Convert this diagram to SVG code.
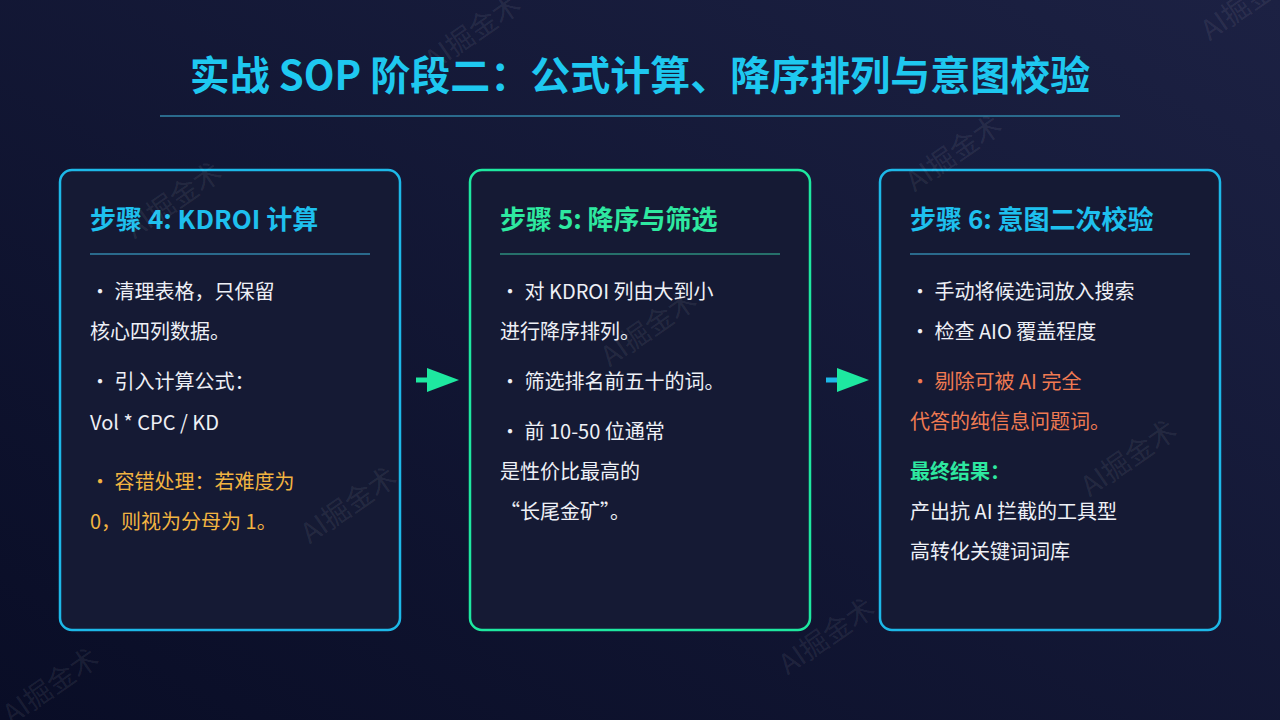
<svg xmlns="http://www.w3.org/2000/svg" width="1280" height="720" viewBox="0 0 1280 720">
  <defs>
    <linearGradient id="bg" x1="0" y1="1" x2="1" y2="0">
      <stop offset="0" stop-color="#090d26"/>
      <stop offset="1" stop-color="#1c2143"/>
    </linearGradient>
    <style>
      .title{font-family:"Noto Sans CJK SC","Noto Sans",sans-serif;font-weight:700;font-size:40px;fill:#1ec8f0}
      .card{fill:#151a34;stroke-width:2.5}
      .cyan{stroke:#1db8e8}
      .green{stroke:#1ee8a0}
      .h{font-family:"Noto Sans CJK SC","Noto Sans",sans-serif;font-weight:700;font-size:26px}
      .hc{fill:#1ec0ee}
      .hg{fill:#2ee8a0}
      .sep{stroke-width:2}
      .b{font-family:"Noto Sans CJK SC","Noto Sans",sans-serif;font-size:20px;fill:#eef0f6}
      .amber{fill:#f2b441}
      .coral{fill:#f07a52}
      .res{fill:#2ee8a0;font-weight:700}
      .wm{font-family:"Noto Sans CJK SC","Noto Sans",sans-serif;font-size:28px;fill:#ffffff;fill-opacity:0.08}
    </style>
  </defs>
  <rect width="1280" height="720" fill="url(#bg)"/>

  <g id="title">
    <text class="title" x="640" y="90" text-anchor="middle">实战 SOP 阶段二：公式计算、降序排列与意图校验</text>
    <line x1="160" y1="116" x2="1120" y2="116" stroke="#2a6a8c" stroke-width="2"/>
  </g>

  <g id="step4">
    <rect class="card cyan" x="60" y="170" width="340" height="460" rx="12"/>
    <text class="h hc" x="90" y="229">步骤 4: KDROI 计算</text>
    <line class="sep" x1="90" y1="254" x2="370" y2="254" stroke="#2a6a8c"/>
    <text class="b" x="90" y="299">・ 清理表格，只保留</text>
    <text class="b" x="90" y="339">核心四列数据。</text>
    <text class="b" x="90" y="389">・ 引入计算公式：</text>
    <text class="b" x="90" y="430">Vol * CPC / KD</text>
    <text class="b amber" x="90" y="489">・ 容错处理：若难度为</text>
    <text class="b amber" x="90" y="529">0，则视为分母为 1。</text>
  </g>

  <g id="step5">
    <rect class="card green" x="470" y="170" width="340" height="460" rx="12"/>
    <text class="h hg" x="500" y="229">步骤 5: 降序与筛选</text>
    <line class="sep" x1="500" y1="254" x2="780" y2="254" stroke="#26706a"/>
    <text class="b" x="500" y="299">・ 对 KDROI 列由大到小</text>
    <text class="b" x="500" y="339">进行降序排列。</text>
    <text class="b" x="500" y="389">・ 筛选排名前五十的词。</text>
    <text class="b" x="500" y="439">・ 前 10-50 位通常</text>
    <text class="b" x="500" y="479">是性价比最高的</text>
    <text class="b" x="500" y="519">“长尾金矿”。</text>
  </g>

  <g id="step6">
    <rect class="card cyan" x="880" y="170" width="340" height="460" rx="12"/>
    <text class="h hc" x="910" y="229">步骤 6: 意图二次校验</text>
    <line class="sep" x1="910" y1="254" x2="1190" y2="254" stroke="#2a6a8c"/>
    <text class="b" x="910" y="299">・ 手动将候选词放入搜索</text>
    <text class="b" x="910" y="339">・ 检查 AIO 覆盖程度</text>
    <text class="b coral" x="910" y="389">・ 剔除可被 AI 完全</text>
    <text class="b coral" x="910" y="429">代答的纯信息问题词。</text>
    <text class="b res" x="910" y="479">最终结果：</text>
    <text class="b" x="910" y="519">产出抗 AI 拦截的工具型</text>
    <text class="b" x="910" y="559">高转化关键词词库</text>
  </g>

  <g id="connectors">
    <line x1="416" y1="380" x2="430" y2="380" stroke="#1ee8a0" stroke-width="5"/>
    <polygon points="427,368 459,380 427,392" fill="#1ee8a0"/>
    <line x1="826" y1="380" x2="840" y2="380" stroke="#1db8e8" stroke-width="5"/>
    <polygon points="837,368 869,380 837,392" fill="#1ee8a0"/>
  </g>

  <g id="watermarks">
    <text class="wm" transform="translate(474,34) rotate(-35)" text-anchor="middle" dominant-baseline="middle">AI掘金术</text>
    <text class="wm" transform="translate(175,202) rotate(-35)" text-anchor="middle" dominant-baseline="middle">AI掘金术</text>
    <text class="wm" transform="translate(350,507) rotate(-35)" text-anchor="middle" dominant-baseline="middle">AI掘金术</text>
    <text class="wm" transform="translate(650,330) rotate(-35)" text-anchor="middle" dominant-baseline="middle">AI掘金术</text>
    <text class="wm" transform="translate(955,155) rotate(-35)" text-anchor="middle" dominant-baseline="middle">AI掘金术</text>
    <text class="wm" transform="translate(1130,460) rotate(-35)" text-anchor="middle" dominant-baseline="middle">AI掘金术</text>
    <text class="wm" transform="translate(828,638) rotate(-35)" text-anchor="middle" dominant-baseline="middle">AI掘金术</text>
    <text class="wm" transform="translate(52,688) rotate(-35)" text-anchor="middle" dominant-baseline="middle">AI掘金术</text>
    <text class="wm" transform="translate(1250,4) rotate(-35)" text-anchor="middle" dominant-baseline="middle">AI掘金术</text>
  </g>
</svg>
